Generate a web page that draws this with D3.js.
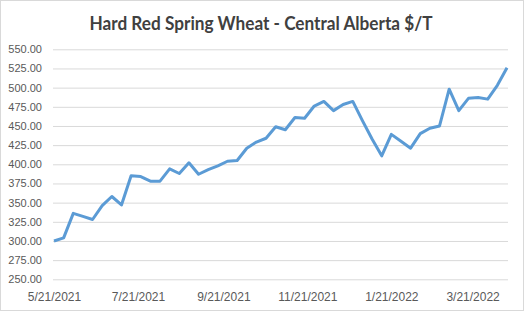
<!DOCTYPE html>
<html>
<head>
<meta charset="utf-8">
<script src="https://cdn.jsdelivr.net/npm/d3@7"></script>
<style>
  body { margin: 0; background: #fff; }
  #chart { width: 524px; height: 311px; }
  .grid line { stroke: #d9d9d9; stroke-width: 1; }
  .tick text { fill: #595959; font-family: "Liberation Sans", Arial, sans-serif; font-size: 11px; }
</style>
</head>
<body>
<div id="chart"></div>
<script>
// weekly prices starting 5/21/2021
let startDate = "2021-05-21";
let prices = [300, 304, 336, 332, 328, 346, 358, 347, 385, 384,
              378, 378, 394, 388, 402, 387, 393, 398, 404, 405,
              421, 429, 434, 449, 445, 461, 460, 476, 482, 470,
              478, 482, 457, 433, 411, 439, 430, 421, 440, 447,
              450, 498, 470, 486, 487, 485, 503, 526];
let yTicks = [250, 275, 300, 325, 350, 375, 400, 425, 450, 475, 500, 525, 550];
let xTickLabels = ["5/21/2021", "7/21/2021", "9/21/2021", "11/21/2021", "1/21/2022", "3/21/2022"];

let parse = d3.timeParse("%Y-%m-%d");
let parseTick = d3.timeParse("%m/%d/%Y");
let t0 = parse(startDate);
let data = prices.map((p, i) => ({ date: d3.timeDay.offset(t0, i * 7), value: p }));

let W = 524, H = 311;
let svg = d3.select("#chart").append("svg")
  .attr("width", W)
  .attr("height", H);

// outer border
svg.append("rect")
  .attr("x", 0.5).attr("y", 0.5)
  .attr("width", W - 1).attr("height", H - 1)
  .attr("fill", "#fff")
  .attr("stroke", "#d9d9d9");

let x = d3.scaleTime()
  .domain(d3.extent(data, d => d.date))
  .range([54, 507]);

let y = d3.scaleLinear()
  .domain([250, 550])
  .range([279.3, 49.3]);

// gridlines + y labels
let yAxis = d3.axisLeft(y)
  .tickValues(yTicks)
  .tickSize(-(508 - 53))
  .tickPadding(11)
  .tickFormat(d3.format(".2f"));

svg.append("g")
  .attr("class", "grid")
  .attr("transform", "translate(53,0)")
  .call(yAxis)
  .call(g => g.select(".domain").remove());

// x labels
let xAxis = d3.axisBottom(x)
  .tickValues(xTickLabels.map(parseTick))
  .tickSize(0)
  .tickPadding(13)
  .tickFormat((d, i) => xTickLabels[i]);

svg.append("g")
  .attr("class", "x-axis")
  .attr("transform", "translate(0,279.3)")
  .call(xAxis)
  .call(g => g.select(".domain").remove())
  .selectAll("text")
  .style("font-size", "12px");

let line = d3.line()
  .x(d => x(d.date))
  .y(d => y(d.value));

svg.append("path")
  .datum(data)
  .attr("fill", "none")
  .attr("stroke", "#5b9bd5")
  .attr("stroke-width", 3)
  .attr("stroke-linejoin", "round")
  .attr("d", line);

svg.append("text")
  .attr("x", 261)
  .attr("y", 30)
  .attr("text-anchor", "middle")
  .attr("font-family", "Lato, 'Open Sans', sans-serif")
  .attr("font-weight", "bold")
  .attr("font-size", "18px")
  .attr("textLength", 343)
  .attr("lengthAdjust", "spacingAndGlyphs")
  .attr("fill", "#404040")
  .text("Hard Red Spring Wheat - Central Alberta $/T");
</script>
</body>
</html>
